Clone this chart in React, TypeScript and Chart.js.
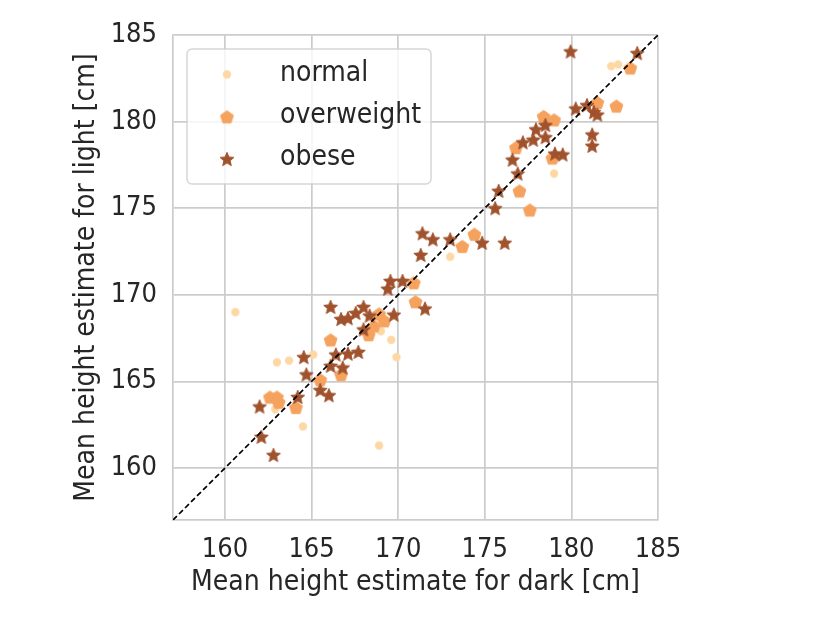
import { useEffect, useRef } from "react";
import { Chart, ChartConfiguration, registerables } from "chart.js";

Chart.register(...registerables);

// mean height estimates (cm) per BMI group: x = dark, y = light
const normalX = [160.6, 163.0, 163.7, 165.1, 162.9, 164.5, 168.9, 169.0, 169.6, 169.9, 173.0, 179.0, 182.3, 182.7];
const normalY = [169.0, 166.1, 166.2, 166.55, 163.4, 162.4, 161.3, 167.9, 167.4, 166.4, 172.2, 177.0, 183.2, 183.3];

const overweightX = [162.6, 163.0, 163.1, 164.1, 165.5, 166.1, 166.7, 168.3, 168.6, 168.9, 169.2, 170.9, 171.0, 173.7, 174.4, 176.8, 177.0, 177.6, 178.4, 178.9, 179.0, 181.5, 182.6, 183.4];
const overweightY = [164.1, 164.1, 163.8, 163.5, 165.1, 167.4, 165.4, 167.7, 168.2, 168.9, 168.5, 170.7, 169.6, 172.8, 173.5, 178.5, 176.0, 174.9, 180.3, 177.9, 180.1, 181.1, 180.9, 183.1];

const obeseX = [162.0, 162.1, 162.8, 164.2, 164.55, 164.7, 165.5, 166.0, 166.4, 166.1, 167.1, 166.8, 167.7, 168.0, 166.1, 166.7, 167.1, 167.55, 168.0, 168.35, 169.75, 169.4, 169.55, 170.25, 171.55, 171.3, 171.4, 172.0, 173.0, 174.85, 176.15, 175.6, 175.8, 176.6, 176.9, 177.2, 177.8, 177.95, 178.5, 178.5, 179.05, 179.5, 179.95, 180.25, 180.9, 181.3, 181.5, 181.2, 181.2, 183.8];
const obeseY = [163.55, 161.8, 160.75, 164.1, 166.4, 165.4, 164.5, 164.2, 166.55, 165.9, 166.6, 165.8, 166.7, 168.0, 169.3, 168.6, 168.65, 168.95, 169.3, 168.8, 168.85, 170.35, 170.8, 170.8, 169.2, 172.3, 173.55, 173.2, 173.2, 173.0, 173.0, 175.0, 176.0, 177.8, 177.0, 178.8, 178.95, 179.55, 179.1, 179.8, 178.15, 178.1, 184.05, 180.75, 180.95, 180.55, 180.4, 179.25, 178.6, 183.95];

const groupLabels = ["normal", "overweight", "obese"];
const axisRange = [157, 185];
const tickValues = [160, 165, 170, 175, 180, 185];

const FONT = "'DejaVu Sans Condensed', 'DejaVu Sans', sans-serif";
const TEXT = "#262626";
const GRID = "#cccccc";

// filled marker shapes (Chart.js has no pentagon / solid star)
function makeMarker(kind: string, color: string, r: number) {
  const c = document.createElement("canvas");
  const s = Math.ceil(r * 2 + 3);
  c.width = s;
  c.height = s;
  const ctx = c.getContext("2d")!;
  ctx.fillStyle = color;
  ctx.strokeStyle = color;
  ctx.lineWidth = 1;
  ctx.beginPath();
  if (kind === "circle") {
    ctx.arc(s / 2, s / 2, r, 0, Math.PI * 2);
  } else {
    const n = kind === "star" ? 10 : 5;
    for (let i = 0; i < n; i++) {
      const a = -Math.PI / 2 + (i * 2 * Math.PI) / n;
      const rr = kind === "star" && i % 2 === 1 ? r * 0.45 : r;
      const px = s / 2 + rr * Math.cos(a);
      const py = s / 2 + rr * Math.sin(a) + (kind === "pentagon" ? r * 0.1 : r * 0.08);
      if (i === 0) ctx.moveTo(px, py);
      else ctx.lineTo(px, py);
    }
    ctx.closePath();
  }
  ctx.fill();
  if (kind !== "circle") ctx.stroke();
  return c;
}

function pairs(xs: number[], ys: number[]) {
  return xs.map((x, i) => ({ x, y: ys[i] }));
}

export default function App() {
  const chartRef = useRef<HTMLCanvasElement>(null);
  const chartInstance = useRef<Chart | null>(null);

  useEffect(() => {
    if (!chartRef.current) return;
    if (chartInstance.current) chartInstance.current.destroy();

    const markers = [
      makeMarker("circle", "#fdd8a5", 4.2),
      makeMarker("pentagon", "#f5a25f", 6.8),
      makeMarker("star", "#a0522d", 7.3),
    ];

    const boxLegend = {
      id: "boxLegend",
      afterDraw(chart: Chart) {
        const { ctx, chartArea } = chart;
        const left = chartArea.left + 14;
        const top = chartArea.top + 14;
        ctx.save();
        ctx.beginPath();
        ctx.roundRect(left, top, 244, 135, 5);
        ctx.fillStyle = "rgba(255,255,255,0.8)";
        ctx.fill();
        ctx.strokeStyle = "rgba(204,204,204,0.8)";
        ctx.lineWidth = 1.5;
        ctx.stroke();
        ctx.font = `28px ${FONT}`;
        ctx.fillStyle = TEXT;
        ctx.textBaseline = "middle";
        groupLabels.forEach((label, i) => {
          const y = top + 25.5 + i * 42.3;
          const m = markers[i];
          ctx.drawImage(m, left + 40 - m.width / 2, y - m.height / 2);
          ctx.fillText(label, left + 93, y - 1);
        });
        ctx.restore();
      },
    };

    const axis = (title: string, isX: boolean) => ({
      type: "linear" as const,
      min: axisRange[0],
      max: axisRange[1],
      afterBuildTicks: (scale: any) => {
        scale.ticks = tickValues.map((v) => ({ value: v }));
      },
      afterFit: (scale: any) => {
        if (isX) scale.height = 103;
        else scale.width = 173;
      },
      grid: { color: GRID, lineWidth: 1.7, drawTicks: false },
      border: { color: GRID, width: 1.7 },
      ticks: {
        color: TEXT,
        padding: isX ? 14 : 16,
        font: { family: FONT, size: 27 },
        maxRotation: 0,
      },
      title: {
        display: true,
        text: title,
        color: TEXT,
        font: { family: FONT, size: 28 },
        padding: isX ? { top: 0, bottom: 23 } : { top: 70, bottom: 0 },
      },
    });

    const config: ChartConfiguration = {
      type: "scatter",
      data: {
        datasets: [
          {
            type: "line",
            label: "identity",
            data: [
              { x: axisRange[0], y: axisRange[0] },
              { x: axisRange[1], y: axisRange[1] },
            ],
            borderColor: "#000000",
            borderWidth: 1.7,
            borderDash: [5.5, 3],
            pointRadius: 0,
            fill: false,
            order: 0,
          } as any,
          {
            label: groupLabels[2],
            data: pairs(obeseX, obeseY),
            pointStyle: markers[2],
            order: 1,
          },
          {
            label: groupLabels[1],
            data: pairs(overweightX, overweightY),
            pointStyle: markers[1],
            order: 2,
          },
          {
            label: groupLabels[0],
            data: pairs(normalX, normalY),
            pointStyle: markers[0],
            order: 3,
          },
        ],
      },
      options: {
        responsive: false,
        animation: false,
        events: [],
        layout: { padding: { top: 35, right: 172, left: 0, bottom: 0 } },
        plugins: {
          legend: { display: false },
          tooltip: { enabled: false },
        },
        scales: {
          x: axis("Mean height estimate for dark [cm]", true),
          y: axis("Mean height estimate for light [cm]", false),
        },
      },
      plugins: [boxLegend],
    };

    chartInstance.current = new Chart(chartRef.current, config);

    return () => {
      if (chartInstance.current) {
        chartInstance.current.destroy();
        chartInstance.current = null;
      }
    };
  }, []);

  return (
    <div style={{ position: "fixed", left: 0, top: 0, width: 830, height: 623, background: "#fff" }}>
      <canvas ref={chartRef} width={830} height={623}></canvas>
    </div>
  );
}
